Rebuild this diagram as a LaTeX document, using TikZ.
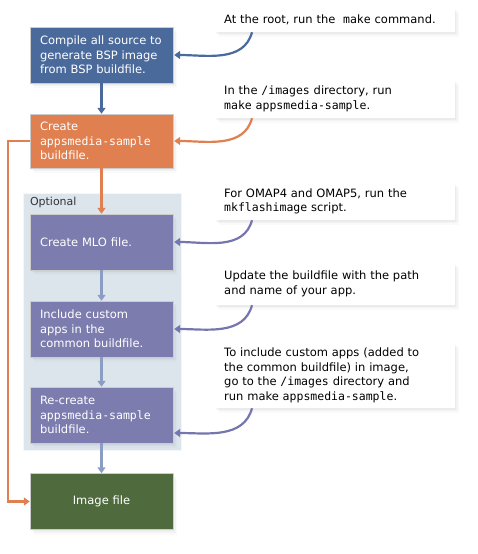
\documentclass[tikz,border=0pt]{standalone}
\usepackage{fontspec}
\setmainfont{DejaVu Sans}
\setmonofont{DejaVu Sans Mono}
\usetikzlibrary{arrows.meta,shadows,positioning}
\definecolor{BspBlue}{RGB}{75,106,156}
\definecolor{BspOrange}{RGB}{224,127,80}
\definecolor{BspPurple}{RGB}{125,124,174}
\definecolor{BspGreen}{RGB}{79,107,61}
\definecolor{PanelGrey}{RGB}{220,229,236}
\definecolor{LinkLight}{RGB}{140,157,196}
\definecolor{LinkPurple}{RGB}{118,118,174}
\tikzset{
	softshadow/.style={
		drop shadow={shadow xshift=1pt,shadow yshift=-1.5pt,opacity=.07},
		drop shadow={shadow xshift=2.5pt,shadow yshift=-3pt,opacity=.06},
		drop shadow={shadow xshift=4pt,shadow yshift=-5pt,opacity=.04}},
	flowbox/.style={
		draw=white!80!black,thin,text=white,align=left,
		text width=123pt,inner xsep=10pt,minimum width=143pt,minimum height=56pt,
		font=\fontsize{11.5}{14.5}\selectfont,softshadow},
	notebox/.style={
		fill=white,anchor=west,align=left,
		text width=222pt,inner xsep=9pt,inner ysep=3pt,
		font=\fontsize{11.5}{14.5}\selectfont,softshadow},
	panel/.style={
		fill=PanelGrey,draw=white!70!PanelGrey,
		minimum width=158pt,minimum height=257pt},
	flowarrow/.style={
		line width=2.2pt,-{Triangle[length=6pt,width=8pt]}},
	notelink/.style={
		line width=2.2pt,-{Triangle[length=6pt,width=8pt]}}
}
\def\cmd#1{\texttt{#1}}

\begin{document}
\begin{tikzpicture}[x=1pt,y=-1pt]
	\useasboundingbox (0,0) rectangle (478,554);
	% optional part
	\node[panel] (optional) at (102,321.5) {};
	\node[anchor=north west,inner sep=0pt,font=\fontsize{11}{13}\selectfont,text=black!80] (optlabel)
		at ([xshift=7pt,yshift=-4pt]optional.north west) {Optional};
	% steps
	\node[flowbox,fill=BspBlue] (compile) at (101.5,55) {Compile all source to\\generate BSP image\\from BSP buildfile.};
	\node[flowbox,fill=BspOrange,minimum height=54pt] (create) at (101.5,141) {Create\\\cmd{appsmedia-sample}\\buildfile.};
	\node[flowbox,fill=BspPurple] (mlo) at (101.5,242) {Create MLO file.};
	\node[flowbox,fill=BspPurple] (include) at (101.5,329) {Include custom\\apps in the\\common buildfile.};
	\node[flowbox,fill=BspPurple] (recreate) at (101.5,415) {Re-create\\\cmd{appsmedia-sample}\\buildfile.};
	\node[flowbox,fill=BspGreen,align=center] (image) at (101.5,501.5) {Image file};
	% notes
	\node[notebox,minimum height=24pt] (noteroot) at (215,20) {At the root, run the \ \cmd{make} command.};
	\node[notebox,minimum height=38pt] (noteimages) at (215,99) {In the \cmd{/images} directory, run\\\cmd{make appsmedia-sample}.};
	\node[notebox,minimum height=37pt] (noteomap) at (215,201.5) {For OMAP4 and OMAP5, run the\\\cmd{mkflashimage} script.};
	\node[notebox,minimum height=42pt] (noteupdate) at (215,284) {Update the buildfile with the path\\and name of your app.};
	\node[notebox,minimum height=65pt] (noterecreate) at (215,375.5) {To include custom apps (added to\\the common buildfile) in image,\\go to the \cmd{/images} directory and\\run make \cmd{appsmedia-sample}.};
	% flow
	\draw[flowarrow,BspBlue] (compile) -- (create);
	\draw[flowarrow,BspOrange] (create) -- (mlo);
	\draw[flowarrow,LinkLight] (mlo) -- (include);
	\draw[flowarrow,LinkLight] (include) -- (recreate);
	\draw[flowarrow,LinkLight] (recreate) -- (image);
	\draw[flowarrow,BspOrange] (create.west) -- ++(-22,0) |- (image.west);
	% notes to steps
	\draw[notelink,BspBlue] ([xshift=37pt]noteroot.south west) to[out=-105,in=0] ([xshift=1pt]compile.east);
	\draw[notelink,BspOrange] ([xshift=37pt]noteimages.south west) to[out=-105,in=0] ([xshift=1pt]create.east);
	\draw[notelink,LinkPurple] ([xshift=37pt]noteomap.south west) to[out=-105,in=0] ([xshift=1pt]mlo.east);
	\draw[notelink,LinkPurple] ([xshift=37pt]noteupdate.south west) to[out=-105,in=0] ([xshift=1pt]include.east);
	\draw[notelink,LinkPurple] ([xshift=37pt]noterecreate.south west) to[out=-105,in=0] ([xshift=1pt,yshift=-18pt]recreate.east);
\end{tikzpicture}
\end{document}
